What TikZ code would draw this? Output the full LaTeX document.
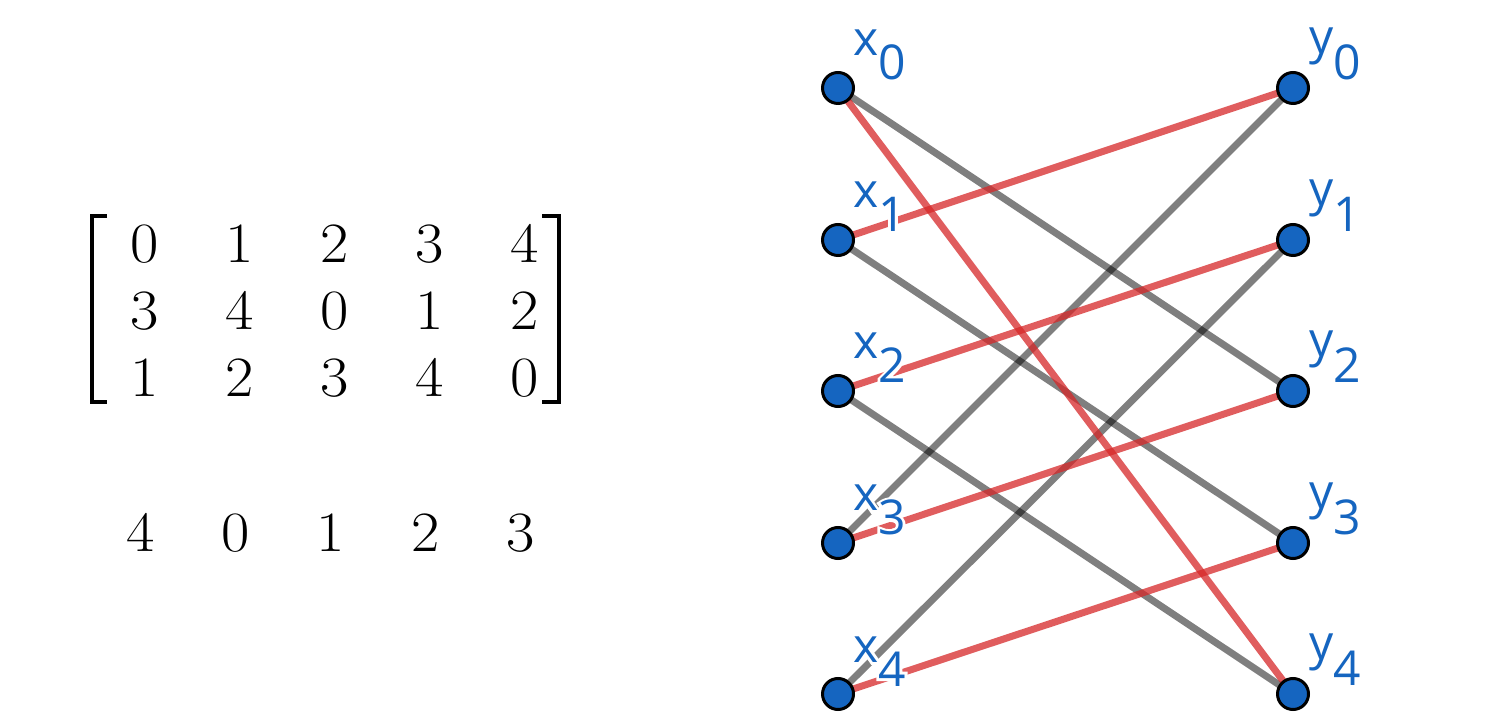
\documentclass[tikz,border=0pt]{standalone}
\usepackage{fontspec}
\newfontfamily\labelfont{Open Sans}
\newfontfamily\halofont[FakeBold=12]{Open Sans}
\usetikzlibrary{backgrounds}
\definecolor{nodeblue}{HTML}{1565C0}
\definecolor{edgered}{RGB}{214,39,40}
\begin{document}
\begin{tikzpicture}[x=0.5pt,y=-0.5pt,
  vert/.style={circle,draw=black,line width=1.5pt,fill=nodeblue,minimum size=15.5pt,inner sep=0pt},
  redge/.style={draw=edgered,line width=3.5pt,opacity=0.75},
  gedge/.style={draw=black,line width=3.5pt,opacity=0.5},
  lab/.style={anchor=base west,inner sep=0pt,text=nodeblue,font=\labelfont\fontsize{24}{24}\selectfont},
  halo/.style={anchor=base west,inner sep=0pt,text=white,font=\halofont\fontsize{24}{24}\selectfont},
  num/.style={anchor=base,inner sep=0pt,font=\fontsize{28.5}{28.5}\selectfont},
  brk/.style={line width=2pt}]
\useasboundingbox (0,0) rectangle (1510,726);
% vertices
\foreach \i/\yy in {0/88,1/240,2/391,3/543,4/694}{
  \node[vert] (x\i) at (838,\yy) {};
  \node[vert] (y\i) at (1293,\yy) {};
}
% edges
\begin{pgfonlayer}{background}
\foreach \i/\j in {0/2,1/3,2/4,3/0,4/1}{
  \draw[gedge] (x\i.center) -- (y\j.center);
}
\foreach \i/\j in {0/4,1/0,2/1,3/2,4/3}{
  \draw[redge] (x\i.center) -- (y\j.center);
}
\end{pgfonlayer}
% labels (white halo, then blue text)
\foreach \i in {0,...,4}{
  \node[halo] (hx\i) at ([xshift=7.3pt,yshift=16pt]x\i.center) {x\raisebox{-12pt}{\i}};
  \node[lab] (lx\i) at ([xshift=7.3pt,yshift=16pt]x\i.center) {x\raisebox{-12pt}{\i}};
  \node[halo] (hy\i) at ([xshift=7.8pt,yshift=17pt]y\i.center) {y\raisebox{-13pt}{\i}};
  \node[lab] (ly\i) at ([xshift=7.8pt,yshift=17pt]y\i.center) {y\raisebox{-13pt}{\i}};
}
% matrix
\foreach \v [count=\c from 0] in {0,1,2,3,4}{
  \pgfmathsetmacro\xx{145+95*\c}
  \node[num] (ma\c) at (\xx,263) {\scalebox{1.08}[1]{\v}};
}
\foreach \v [count=\c from 0] in {3,4,0,1,2}{
  \pgfmathsetmacro\xx{145+95*\c}
  \node[num] (mb\c) at (\xx,330) {\scalebox{1.08}[1]{\v}};
}
\foreach \v [count=\c from 0] in {1,2,3,4,0}{
  \pgfmathsetmacro\xx{145+95*\c}
  \node[num] (mc\c) at (\xx,397) {\scalebox{1.08}[1]{\v}};
}
\foreach \v [count=\c from 0] in {4,0,1,2,3}{
  \pgfmathsetmacro\xx{141+95*\c}
  \node[num] (r\c) at (\xx,552) {\scalebox{1.08}[1]{\v}};
}
\draw[brk] (107,216) -- (91.5,216) -- (91.5,402) -- (107,402);
\draw[brk] (542,216) -- (559,216) -- (559,402) -- (542,402);
\end{tikzpicture}
\end{document}
